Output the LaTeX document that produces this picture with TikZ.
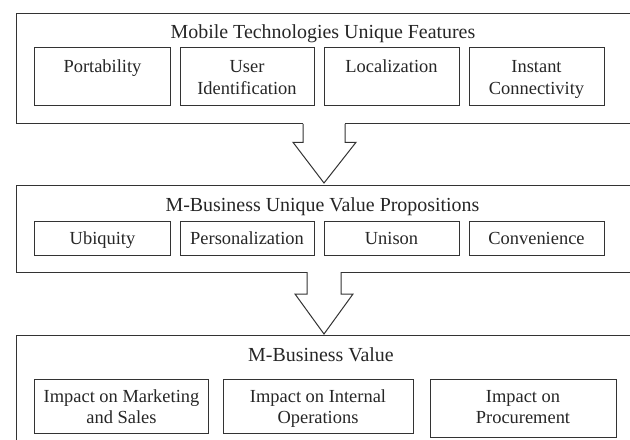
\documentclass[tikz,border=0pt]{standalone}
\usepackage{fontspec}
\setmainfont{Liberation Serif}
\usetikzlibrary{calc}
\begin{document}
\begin{tikzpicture}[x=1bp,y=-1bp,
  line/.style={draw=black!80, line width=1bp},
  frame/.style={line, rectangle, inner sep=0pt, outer sep=0pt, anchor=north west},
  title/.style={font=\fontsize{20}{24}\selectfont, text=black!85, inner sep=0pt, anchor=base},
  sub/.style={line, rectangle, inner xsep=0pt, inner ysep=0pt, outer sep=0pt, align=center,
    font=\fontsize{18.5}{21.5}\selectfont, text=black!85, anchor=north},
  rowA/.style={sub, text height=24.7bp, text depth=33.3bp},
  rowAtwo/.style={sub, text height=46.2bp, text depth=11.8bp},
  rowB/.style={sub, text height=23bp, text depth=11bp},
  rowC/.style={sub, text height=44.5bp, text depth=9.5bp},
  blockarrow/.style={line, line join=miter}
]
\fill[white] (0,0) rectangle (630,440);
\clip (0,0) rectangle (630,440);

% outer frames
\node[frame, minimum width=624bp, minimum height=110.5bp] (F1) at (16,13.3) {};
\node[frame, minimum width=624bp, minimum height=86bp] (F2) at (16,186) {};
\node[frame, minimum width=624bp, minimum height=120bp] (F3) at (16,335) {};

% titles
\node[title] (t1) at (323,38.3) {Mobile Technologies Unique Features};
\node[title] (t2) at (322.5,211.7) {M-Business Unique Value Propositions};
\node[title] (t3) at (321,361.7) {M-Business Value};

% row A
\node[rowA, minimum width=135bp] (a1) at (102.5,48) {Portability};
\node[rowAtwo, minimum width=134bp] (a2) at (247,48) {User\\Identification};
\node[rowA, minimum width=135bp] (a3) at (391.5,48) {Localization};
\node[rowAtwo, minimum width=135bp] (a4) at (536.5,48) {Instant\\Connectivity};

% row B
\node[rowB, minimum width=135bp] (b1) at (102.5,222) {Ubiquity};
\node[rowB, minimum width=134bp] (b2) at (247,222) {Personalization};
\node[rowB, minimum width=135bp] (b3) at (391.5,222) {Unison};
\node[rowB, minimum width=135bp] (b4) at (536.5,222) {Convenience};

% row C
\node[rowC, minimum width=173bp] (c1) at (121.5,379) {Impact on Marketing\\and Sales};
\node[rowC, minimum width=190bp] (c2) at (318,379) {Impact on Internal\\Operations};
\node[rowC, minimum width=186bp, text depth=13.5bp] (c3) at (523,379) {Impact on\\Procurement};

% block arrows
\coordinate (e1) at (324,183);
\coordinate (s1) at (F1.south west -| e1);
\fill[white] ($(s1)+(-21,-1.5)$) rectangle ($(s1)+(21,1.5)$);
\draw[blockarrow] ($(s1)+(-21,0)$) -- ++(0,18.5) -- ++(-10,0) -- (e1) -- ($(s1)+(32,18.5)$) -- ++(-11,0) -- ($(s1)+(21,0)$);

\coordinate (e2) at (324,334);
\coordinate (s2) at (F2.south west -| e2);
\fill[white] ($(s2)+(-17,-1.5)$) rectangle ($(s2)+(17,1.5)$);
\draw[blockarrow] ($(s2)+(-17,0)$) -- ++(0,22) -- ++(-12,0) -- (e2) -- ($(s2)+(29,22)$) -- ++(-12,0) -- ($(s2)+(17,0)$);
\end{tikzpicture}
\end{document}
